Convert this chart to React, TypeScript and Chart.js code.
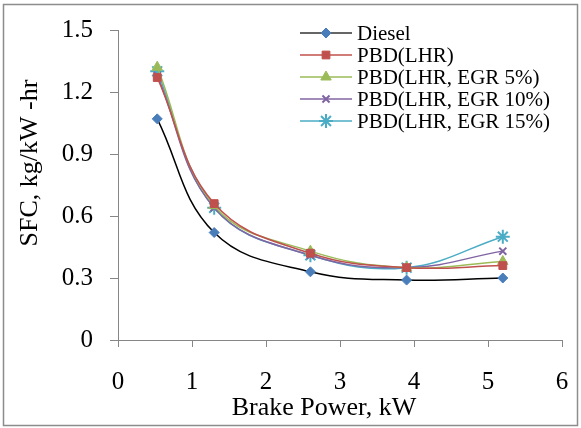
import React, { useEffect, useRef } from "react";
import { Chart, registerables } from "chart.js";
import { drawPoint } from "chart.js/helpers";

Chart.register(...registerables);

const brakePower = [0.53, 1.3, 2.6, 3.9, 5.2];
const diesel = [1.07, 0.52, 0.33, 0.29, 0.3];
const pbdLhr = [1.27, 0.66, 0.42, 0.35, 0.36];
const pbdEgr5 = [1.32, 0.65, 0.43, 0.35, 0.38];
const pbdEgr10 = [1.28, 0.64, 0.41, 0.35, 0.43];
const pbdEgr15 = [1.3, 0.64, 0.41, 0.35, 0.5];
const seriesNames = ["Diesel", "PBD(LHR)", "PBD(LHR, EGR 5%)", "PBD(LHR, EGR 10%)", "PBD(LHR, EGR 15%)"];
const xTitle = "Brake Power, kW";
const yTitle = "SFC, kg/kW -hr";

const FONT = "'Liberation Serif', 'Times New Roman', serif";

const styles = [
  { line: "#000000", marker: "#4A7EBB", style: "rectRot", r: 5, bw: 1 },
  { line: "#C0504D", marker: "#C0504D", style: "rect", r: 5.5, bw: 1 },
  { line: "#9BBB59", marker: "#9BBB59", style: "triangle", r: 6, bw: 1 },
  { line: "#8064A2", marker: "#8064A2", style: "crossRot", r: 5, bw: 2 },
  { line: "#4BACC6", marker: "#4BACC6", style: "star", r: 7, bw: 2 },
];

const overlay = {
  id: "overlay",
  afterDraw(chart: any) {
    const ctx = chart.ctx;
    ctx.save();
    // outer frame
    ctx.strokeStyle = "#8C8C8C";
    ctx.lineWidth = 1.5;
    ctx.strokeRect(3.5, 4.5, 574, 421);
    // axis titles
    ctx.fillStyle = "#000";
    ctx.font = `26px ${FONT}`;
    ctx.textAlign = "center";
    ctx.textBaseline = "middle";
    ctx.fillText(xTitle, 324, 408);
    ctx.save();
    ctx.translate(30, 163);
    ctx.rotate(-Math.PI / 2);
    ctx.fillText(yTitle, 0, 0);
    ctx.restore();
    // legend
    const rows = [33, 55, 77, 99, 121];
    ctx.font = `21px ${FONT}`;
    ctx.textAlign = "left";
    seriesNames.forEach((name, i) => {
      const s = styles[i];
      const y = rows[i];
      ctx.strokeStyle = i === 0 ? "#333" : s.line;
      ctx.lineWidth = 1.5;
      ctx.beginPath();
      ctx.moveTo(300, y);
      ctx.lineTo(352, y);
      ctx.stroke();
      ctx.fillStyle = s.marker;
      ctx.strokeStyle = s.marker;
      ctx.lineWidth = s.bw;
      drawPoint(ctx, { pointStyle: s.style, radius: s.r, rotation: 0, borderWidth: s.bw }, 326, y);
      ctx.fillStyle = "#000";
      ctx.fillText(name, 357, y + 1);
    });
    ctx.restore();
  },
};

export default function App() {
  const ref = useRef<HTMLCanvasElement>(null);
  useEffect(() => {
    const series = [diesel, pbdLhr, pbdEgr5, pbdEgr10, pbdEgr15];
    const chart = new Chart(ref.current!, {
      type: "line",
      data: {
        datasets: series.map((vals, i) => ({
          label: seriesNames[i],
          data: vals.map((v, j) => ({ x: brakePower[j], y: v })),
          borderColor: styles[i].line,
          backgroundColor: styles[i].marker,
          pointBackgroundColor: styles[i].marker,
          pointBorderColor: styles[i].marker,
          pointStyle: styles[i].style as any,
          pointRadius: styles[i].r,
          pointBorderWidth: styles[i].bw,
          borderWidth: 1.5,
          tension: 0.4,
          fill: false,
        })),
      },
      options: {
        responsive: false,
        animation: false,
        layout: { padding: { top: 30, right: 19, left: 0, bottom: 0 } },
        plugins: { legend: { display: false }, tooltip: { enabled: false } },
        scales: {
          x: {
            type: "linear",
            min: 0,
            max: 6,
            offset: false,
            afterFit: (s: any) => { s.height = 88; s.paddingRight = 0; s.paddingLeft = 0; },
            ticks: { stepSize: 1, color: "#000", font: { family: FONT, size: 25 }, padding: 20 },
            grid: { drawOnChartArea: false, drawTicks: true, tickLength: 7, color: "#868686" },
            border: { color: "#868686", width: 1 },
          },
          y: {
            type: "linear",
            min: 0,
            max: 1.5,
            afterFit: (s: any) => { s.width = 118; s.paddingTop = 0; s.paddingBottom = 0; },
            ticks: {
              stepSize: 0.3,
              color: "#000",
              font: { family: FONT, size: 25 },
              padding: 17,
              callback: (v: any) => { const n = Math.round(Number(v) * 10) / 10; return n === 0 ? "0" : n.toFixed(1); },
            },
            grid: { drawOnChartArea: false, drawTicks: true, tickLength: 8, color: "#868686" },
            border: { color: "#868686", width: 1 },
          },
        },
      },
      plugins: [overlay],
    });
    return () => chart.destroy();
  }, []);
  return (
    <div style={{ position: "absolute", left: 0, top: 0, width: 581, height: 428, background: "#fff" }}>
      <canvas ref={ref} width={581} height={428} style={{ width: 581, height: 428 }} />
    </div>
  );
}
